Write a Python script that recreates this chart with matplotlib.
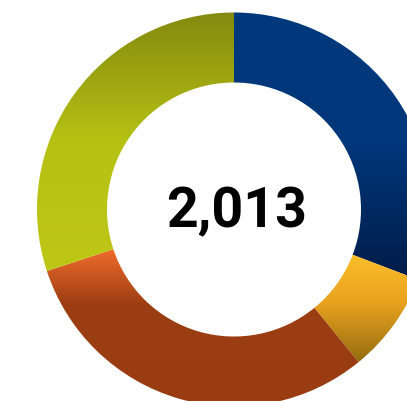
import numpy as np
import matplotlib
matplotlib.use("Agg")
import matplotlib.pyplot as plt
from matplotlib.patches import Wedge
from matplotlib.colors import LinearSegmentedColormap

# data (clockwise from 12 o'clock)
labels = ["Blue", "Yellow", "Orange", "Green"]
values = [620, 167, 621, 605]
total_label = "2,013"

# vertical gradient stops for each slice, top -> bottom
gradients = [
    [(0.0, "#003a7c"), (0.5, "#00367a"), (1.0, "#001c48")],
    [(0.0, "#fbbe2a"), (0.45, "#e9a21e"), (1.0, "#946c10")],
    [(0.0, "#f06c2c"), (0.35, "#9c3e12"), (1.0, "#9a3c12")],
    [(0.0, "#838a0e"), (0.5, "#b6c114"), (1.0, "#bec716")],
]

W, H = 407, 402
fig = plt.figure(figsize=(W / 100, H / 100), dpi=100)
ax = fig.add_axes([0, 0, 1, 1])
ax.set_xlim(0, W)
ax.set_ylim(0, H)
ax.axis("off")

cx, cy = 234, H - 210.5
R, r = 197, 127

start = 90.0
for vals, grad in zip(values, gradients):
    sweep = vals / sum(values) * 360
    t1, t2 = start - sweep, start
    w = Wedge((cx, cy), R, t1, t2, width=R - r, facecolor="none", edgecolor="none")
    ax.add_patch(w)
    # bounding box of the slice
    th = np.radians(np.linspace(t1, t2, 200))
    ys = np.concatenate([cy + R * np.sin(th), cy + r * np.sin(th)])
    xs = np.concatenate([cx + R * np.cos(th), cx + r * np.cos(th)])
    cmap = LinearSegmentedColormap.from_list("g", grad)
    img = np.linspace(0, 1, 256).reshape(-1, 1)
    im = ax.imshow(img, cmap=cmap, extent=[xs.min(), xs.max(), ys.min(), ys.max()],
                   origin="upper", aspect="auto", interpolation="bilinear")
    im.set_clip_path(w)
    start = t1

ax.set_xlim(0, W)
ax.set_ylim(0, H)
ax.text(237, H - 227, total_label, ha="center", va="baseline", fontsize=40,
        fontweight="bold", family=["Roboto", "DejaVu Sans"], color="black")

fig.savefig("out.png", dpi=100)
